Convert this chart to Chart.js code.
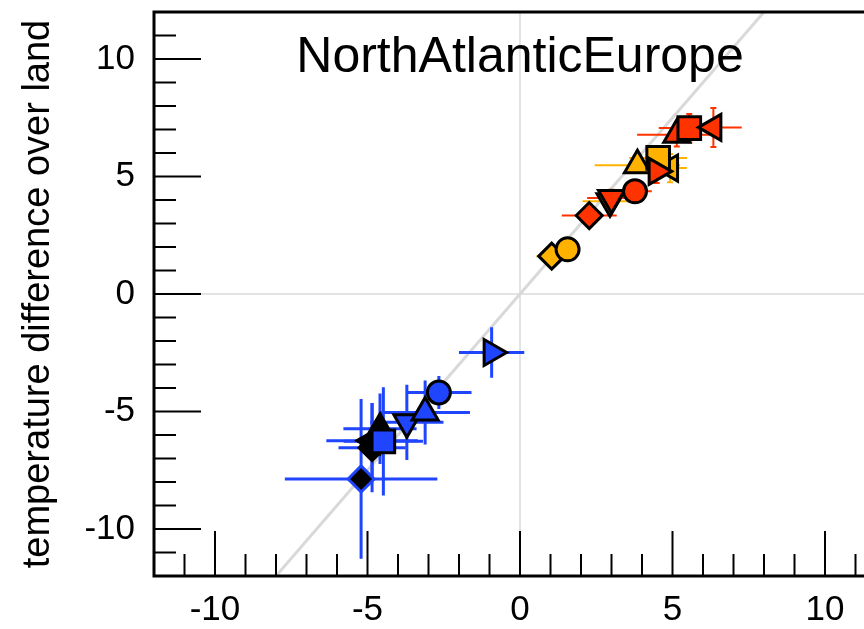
<!DOCTYPE html>
<html>
<head>
<meta charset="utf-8">
<script src="https://cdn.jsdelivr.net/npm/chart.js@4.4.0/dist/chart.umd.min.js"></script>
<style>
  html, body { margin: 0; padding: 0; background: #fff; overflow: hidden; }
  #wrap { width: 900px; height: 629px; position: relative; }
</style>
</head>
<body>
<div id="wrap"><canvas id="chart"></canvas></div>
<script>
// === DATA ===
const titleText = "NorthAtlanticEurope";
const yTitle = "temperature difference over land";
const axisMin = -12, axisMax = 12;
const tickLabels = [-10, -5, 0, 5, 10];

// reference line through the cloud
const refX = [-8, 8];
const refY = [-12, 12];

// points, in drawing order (first drawn = bottom)
const xs     = [-5.21, -4.85, -4.85, -4.59, -3.71, -3.11, -2.66, -4.48, -0.93,
                 1.04,  1.56,  2.27,  2.95,  3.00,  3.77,  3.85,  4.92,  4.53,  4.48,  5.14,  5.55,  6.34];
const ys     = [-7.87, -6.24, -6.54, -5.73, -5.46, -5.04, -4.19, -6.27, -2.49,
                 1.61,  1.90,  3.34,  3.95,  4.09,  4.37,  5.48,  5.36,  5.79,  5.22,  6.78,  7.06,  7.09];
const xErr   = [ 2.50,  1.50,  1.10,  1.20,  1.20,  1.47,  1.07,  1.30,  1.07,
                 0.50,  0.20,  0.90,  0.90,  0.80,  0.55,  1.40,  0.55,  0.95,  0.50,  1.30,  1.00,  0.93];
const yErr   = [ 3.40,  1.60,  1.90,  1.50,  1.60,  1.36,  0.70,  2.30,  1.07,
                 0.10,  0.20,  0.20,  0.20,  0.35,  0.35,  0.30,  0.60,  0.30,  0.50,  0.50,  0.60,  0.83];
const shapes = ["diamond", "left", "diamond", "up", "down", "up", "circle", "square", "right",
                "diamond", "circle", "diamond", "down", "down", "circle", "up", "left", "square", "right", "up", "square", "left"];
const groups = ["black", "black", "black", "black", "blue", "blue", "blue", "blue", "blue",
                "orange", "orange", "red", "orange", "red", "red", "orange", "orange", "orange", "red", "red", "red", "red"];

// === STYLE ===
const COLORS = { blue: "#1f45ff", black: "#000000", orange: "#ffb300", red: "#ff3300" };
const BAR_COLORS = { blue: "#1f45ff", black: "#1f45ff", orange: "#ffb300", red: "#ff3300" };
const STYLE = { circle: "circle", square: "rect", diamond: "rectRot", up: "triangle", down: "triangle", left: "triangle", right: "triangle" };
const ROT = { up: 0, down: 180, left: 270, right: 90 };
const RAD = { circle: 11.5, square: 16, diamond: 13, up: 15, down: 15, left: 15, right: 15 };
const FONT = "'Liberation Sans', Arial, Helvetica, sans-serif";

const points = xs.map((x, i) => ({ x, y: ys[i] }));

// error bars, drawn just before the markers (dataset 0)
const errorBars = {
  id: "errorBars",
  beforeDatasetDraw(chart, args) {
    if (args.index !== 0) return;
    const { ctx, scales: { x, y } } = chart;
    ctx.save();
    ctx.lineCap = "butt";
    xs.forEach((vx, i) => {
      const g = groups[i];
      const warm = g === "orange" || g === "red";
      ctx.strokeStyle = BAR_COLORS[g];
      ctx.lineWidth = warm ? 2 : 3;
      const px = x.getPixelForValue(vx), py = y.getPixelForValue(ys[i]);
      const x0 = x.getPixelForValue(vx - xErr[i]), x1 = x.getPixelForValue(vx + xErr[i]);
      const y0 = y.getPixelForValue(ys[i] - yErr[i]), y1 = y.getPixelForValue(ys[i] + yErr[i]);
      ctx.beginPath();
      ctx.moveTo(x0, py); ctx.lineTo(x1, py);
      ctx.moveTo(px, y0); ctx.lineTo(px, y1);
      if (warm) {
        ctx.moveTo(px - 3, y0); ctx.lineTo(px + 3, y0);
        ctx.moveTo(px - 3, y1); ctx.lineTo(px + 3, y1);
      }
      ctx.stroke();
    });
    ctx.restore();
  }
};

// frame, inward ticks and the title inside the plot
const frame = {
  id: "frame",
  afterDraw(chart) {
    const { ctx, chartArea: a, scales: { x, y } } = chart;
    ctx.save();
    ctx.strokeStyle = "#000";
    ctx.lineWidth = 2;
    ctx.beginPath();
    for (let v = axisMin + 1; v < axisMax; v++) {
      const major = v % 5 === 0;
      const py = y.getPixelForValue(v);
      ctx.moveTo(a.left, py); ctx.lineTo(a.left + (major ? 47 : 22), py);
      const px = x.getPixelForValue(v);
      ctx.moveTo(px, a.bottom); ctx.lineTo(px, a.bottom - (major ? 45 : 22));
    }
    ctx.stroke();
    ctx.lineWidth = 3;
    ctx.strokeRect(a.left, a.top, a.right - a.left, a.bottom - a.top);

    ctx.fillStyle = "#000";
    ctx.font = "50px " + FONT;
    ctx.textAlign = "center";
    ctx.textBaseline = "alphabetic";
    ctx.fillText(titleText, (a.left + a.right) / 2, 72);
    ctx.restore();
  }
};

new Chart(document.getElementById("chart"), {
  type: "scatter",
  data: {
    datasets: [
      {
        data: points,
        pointStyle: shapes.map(s => STYLE[s]),
        rotation: shapes.map(s => ROT[s] || 0),
        pointRadius: shapes.map(s => RAD[s]),
        backgroundColor: groups.map(g => COLORS[g]),
        borderColor: groups.map((g, i) => (g === "black" && i === 0) ? COLORS.blue : "#000"),
        borderWidth: 3
      },
      {
        type: "line",
        data: refX.map((x, i) => ({ x, y: refY[i] })),
        borderColor: "#d9d9d9",
        borderWidth: 3,
        pointRadius: 0,
        fill: false
      }
    ]
  },
  options: {
    responsive: true,
    maintainAspectRatio: false,
    animation: false,
    layout: { autoPadding: false, padding: { top: 12, right: 14, left: 0, bottom: 0 } },
    plugins: { legend: { display: false }, tooltip: { enabled: false }, title: { display: false } },
    scales: {
      x: {
        type: "linear",
        min: axisMin, max: axisMax,
        afterFit(s) { s.height = 53; s.paddingLeft = 0; s.paddingRight = 0; },
        afterBuildTicks(s) { s.ticks = tickLabels.map(v => ({ value: v })); },
        ticks: { color: "#000", font: { size: 35, family: FONT }, padding: 13, maxRotation: 0 },
        grid: { drawTicks: false, lineWidth: 2, color: c => (c.tick && c.tick.value === 0) ? "#e3e3e3" : "rgba(0,0,0,0)" },
        border: { display: false }
      },
      y: {
        type: "linear",
        min: axisMin, max: axisMax,
        afterFit(s) { s.width = 154; s.paddingTop = 0; s.paddingBottom = 0; },
        afterBuildTicks(s) { s.ticks = tickLabels.map(v => ({ value: v })); },
        ticks: { color: "#000", font: { size: 35, family: FONT }, padding: 19 },
        grid: { drawTicks: false, lineWidth: 2, color: c => (c.tick && c.tick.value === 0) ? "#e3e3e3" : "rgba(0,0,0,0)" },
        border: { display: false },
        title: { display: true, text: yTitle, color: "#000", font: { size: 38, family: FONT }, padding: { top: 16, bottom: 0 } }
      }
    }
  },
  plugins: [errorBars, frame]
});
</script>
</body>
</html>
